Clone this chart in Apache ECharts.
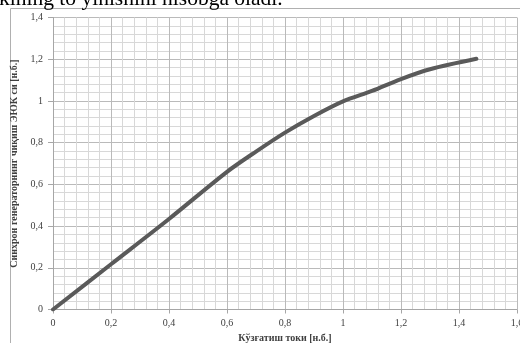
<!DOCTYPE html>
<html><head><meta charset="utf-8">
<script src="https://cdn.jsdelivr.net/npm/echarts@6/dist/echarts.min.js"></script>
<style>html,body{margin:0;padding:0;background:#fff}#c{width:520px;height:343px}</style>
</head><body><div id="c"></div>
<script>
const xValues = [0, 0.2, 0.4, 0.6, 0.7, 0.8, 0.9, 1.0, 1.1, 1.2, 1.3, 1.46];
const yValues = [0, 0.217, 0.434, 0.66, 0.757, 0.848, 0.928, 0.998, 1.048, 1.105, 1.152, 1.202];
const xAxisName = 'Кўзғатиш токи [н.б.]';
const yAxisName = 'Синхрон генераторнинг чиқиш ЭЮК си [н.б.]';
const topText = 'kining to yinishini hisobga oladi.';

const fmt = v => String(+v.toFixed(2)).replace('.', ',');
const chart = echarts.init(document.getElementById('c'), null, {renderer: 'canvas'});
const labelStyle = {fontFamily: 'Liberation Serif', fontSize: 10, color: '#404040'};
const nameStyle = {fontFamily: 'Liberation Serif', fontSize: 10, fontWeight: 'bold', color: '#404040'};
chart.setOption({
  animation: false,
  backgroundColor: '#fff',
  graphic: [
    {type: 'rect', shape: {x: 10.5, y: 8.5, width: 600, height: 400}, style: {fill: 'none', stroke: '#b0b0b0', lineWidth: 1}, z: -10},
    {type: 'text', x: -1, y: -12, style: {text: topText, font: '21.5px "Liberation Serif"', fill: '#000'}}
  ],
  grid: {left: 53, top: 17.5, right: 3, bottom: 33.5, outerBoundsMode: 'none', containLabel: false},
  xAxis: {
    type: 'value', min: 0, max: 1.6, interval: 0.2,
    name: xAxisName, nameLocation: 'middle', nameGap: 23, nameTextStyle: nameStyle,
    axisLabel: Object.assign({formatter: fmt, margin: 9}, labelStyle),
    axisLine: {show: true, lineStyle: {color: '#a6a6a6'}},
    axisTick: {show: true, length: 4, lineStyle: {color: '#a6a6a6'}},
    splitLine: {show: true, lineStyle: {color: '#bababa', width: 1}},
    minorTick: {show: false, splitNumber: 5},
    minorSplitLine: {show: true, lineStyle: {color: '#d8d8d8', width: 1}}
  },
  yAxis: {
    type: 'value', min: 0, max: 1.4, interval: 0.2,
    name: yAxisName, nameLocation: 'middle', nameGap: 18, nameRotate: 90, nameTextStyle: nameStyle,
    axisLabel: Object.assign({formatter: fmt, margin: 10}, labelStyle),
    axisLine: {show: true, lineStyle: {color: '#a6a6a6'}},
    axisTick: {show: true, length: 5, lineStyle: {color: '#a6a6a6'}},
    splitLine: {show: true, lineStyle: {color: '#bababa', width: 1}},
    minorTick: {show: false, splitNumber: 5},
    minorSplitLine: {show: true, lineStyle: {color: '#d8d8d8', width: 1}}
  },
  series: [{
    type: 'line', data: xValues.map((x, i) => [x, yValues[i]]),
    smooth: 0.3, showSymbol: false,
    lineStyle: {color: '#5a5a5a', width: 4, cap: 'round'}
  }]
});
</script></body></html>
